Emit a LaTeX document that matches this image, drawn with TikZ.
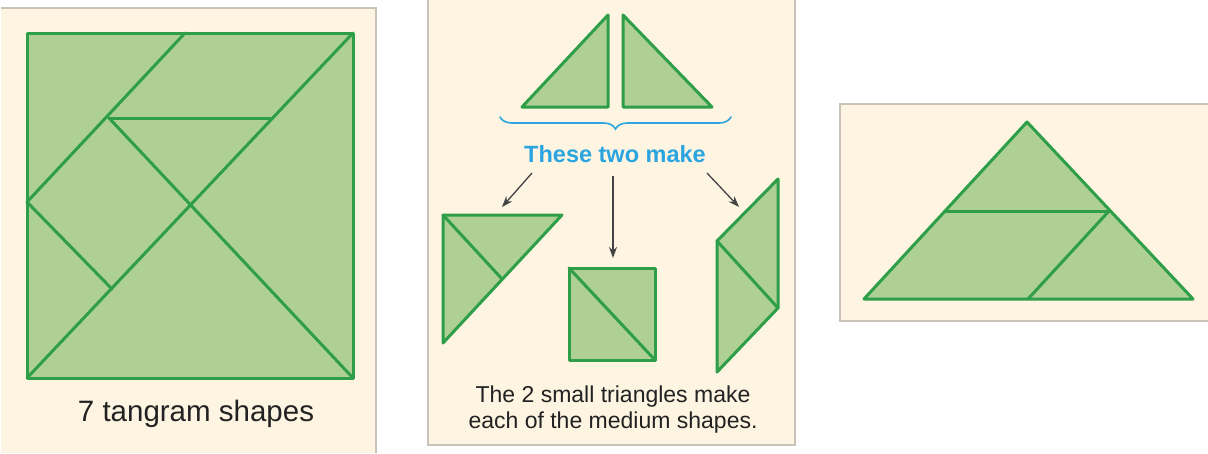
\documentclass[tikz,border=0pt]{standalone}
\usepackage{fontspec}
\setmainfont{Liberation Sans}
\usetikzlibrary{arrows.meta,decorations.pathreplacing}
\definecolor{cream}{HTML}{FDF4E1}
\definecolor{tfill}{HTML}{AED095}
\definecolor{tline}{HTML}{2E9E48}
\definecolor{pborder}{HTML}{C8C2B8}
\definecolor{bluetxt}{HTML}{2AA5DF}
\definecolor{dtext}{HTML}{222222}
\tikzset{
  piece/.style={fill=tfill, draw=tline, line width=3pt, line join=round, line cap=round},
  seg/.style={draw=tline, line width=3pt, line cap=round},
  panel/.style={fill=cream},
  pline/.style={draw=pborder, line width=1.5pt},
  pointer/.style={draw=dtext!85, line width=1.3pt, -{Stealth[length=11pt,width=8pt]}},
  caption/.style={text=dtext, font=\fontsize{29.5}{33}\selectfont, inner sep=0pt},
  small/.style={text=dtext, font=\fontsize{23}{26}\selectfont, inner sep=0pt, align=center},
}
\begin{document}
\begin{tikzpicture}[x=1pt,y=-1pt]
\useasboundingbox (0,0) rectangle (1208,453);
\fill[white] (0,0) rectangle (1208,453);
% ---------------- panels
\fill[panel] (1,8) rectangle (376,453);
\draw[pline] (1,8) -- (376,8) -- (376,453);
\fill[panel] (428,0) rectangle (795,445);
\draw[pline] (428,0) -- (428,445) -- (795,445) -- (795,0);
\fill[panel] (840,104) rectangle (1208,321);
\draw[pline] (1208,104) -- (840,104) -- (840,321) -- (1208,321);
% ---------------- left: tangram square
\coordinate (A) at (27,33);
\coordinate (B) at (353,33);
\coordinate (C) at (353,378);
\coordinate (D) at (27,378);
\coordinate (T) at (185,33);
\coordinate (P) at (109,118);
\coordinate (Q) at (272,118);
\coordinate (L) at (27,202);
\coordinate (O) at (190,206);
\coordinate (R) at (112,289);
\path[piece] (A) -- (B) -- (C) -- (D) -- cycle;
\draw[seg] (D) -- (B);
\draw[seg] (T) -- (L);
\draw[seg] (P) -- (Q);
\draw[seg] (P) -- (C);
\draw[seg] (L) -- (R);
\node[caption] (cap1) at (196,414) {7 tangram shapes};
% ---------------- middle: two small triangles
\path[piece] (522,107) -- (608,107) -- (608,15) -- cycle;
\path[piece] (623,15) -- (623,107) -- (712,107) -- cycle;
\draw[bluetxt, line width=1.6pt, line cap=round,
  decorate, decoration={brace, amplitude=12pt, aspect=0.5}] (731,117) -- (500,117);
\node[text=bluetxt, font=\fontsize{23.5}{26}\selectfont\bfseries, inner sep=0pt] (make) at (615,154) {These two make};
% medium shapes
\path[piece] (443,215) -- (562,215) -- (443,343) -- cycle;
\draw[seg] (443,215) -- (502,279);
\path[piece] (569,268) rectangle (655,360);
\draw[seg] (569,268) -- (655,360);
\path[piece] (778,179) -- (778,308) -- (717,372) -- (717,241) -- cycle;
\draw[seg] (717,241) -- (778,308);
% arrows
\coordinate (a1s) at (532,173); \coordinate (a1e) at (502,207);
\coordinate (a2s) at (613,176); \coordinate (a2e) at (613,258);
\coordinate (a3s) at (707,173); \coordinate (a3e) at (739,207);
\draw[pointer] (a1s) -- (a1e);
\draw[pointer] (a2s) -- (a2e);
\draw[pointer] (a3s) -- (a3e);
\node[small] (cap2) at (613,410) {The 2 small triangles make\\each of the medium shapes.};
% ---------------- right: big triangle
\coordinate (ap) at (1027,122);
\coordinate (bl) at (864,299);
\coordinate (br) at (1193,299);
\coordinate (ml) at (945,211);
\coordinate (mr) at (1109,211);
\coordinate (mb) at (1028,299);
\path[piece] (ap) -- (br) -- (bl) -- cycle;
\draw[seg] (ml) -- (mr);
\draw[seg] (mr) -- (mb);
\end{tikzpicture}
\end{document}
